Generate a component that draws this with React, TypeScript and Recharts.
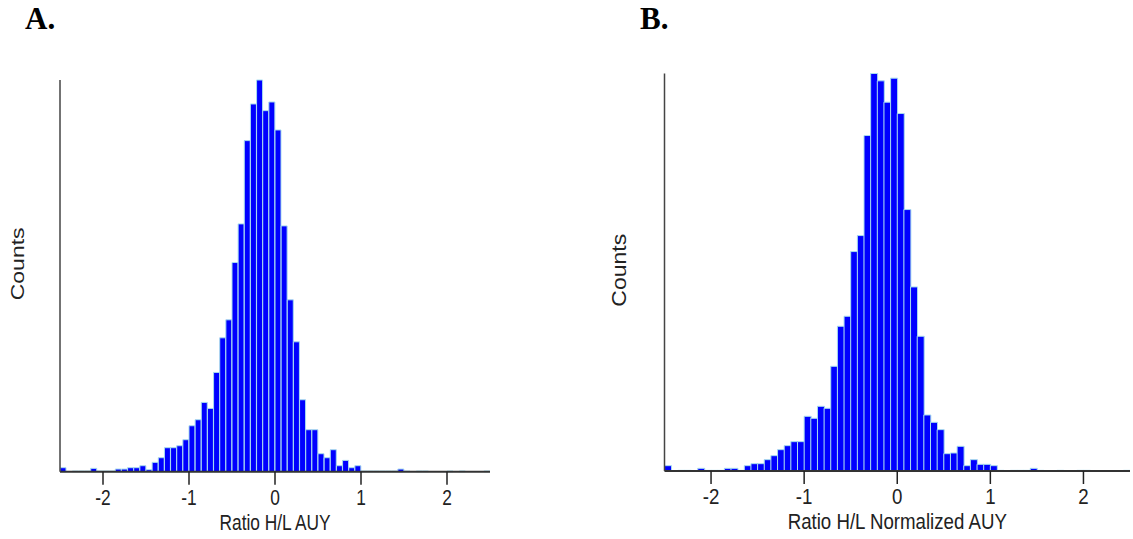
import React from "react";
import { BarChart, Bar, XAxis, YAxis } from "recharts";

// bin edges: 70 bins of width 1/14 spanning [-2.5, 2.5]
const binCount = 70;
const binWidth = 1 / 14;
const binStart = -2.5;
const xTicks = [-2, -1, 0, 1, 2];

const countsA = [
  6, 0, 1, 1, 1, 5, 1, 1, 1, 4,
  4, 6, 6, 9, 3, 14, 21, 36, 36, 39,
  48, 69, 78, 104, 95, 149, 201, 228, 314, 372,
  497, 552, 588, 542, 555, 513, 369, 258, 195, 108,
  63, 63, 27, 21, 33, 9, 17, 6, 9, 1,
  1, 1, 1, 1, 1, 4, 1, 0, 1, 1,
  0, 0, 0, 1, 0, 1, 0, 0, 0, 1,
];

const countsB = [
  8, 0, 1, 1, 0, 4, 1, 1, 1, 4,
  4, 1, 8, 11, 11, 17, 23, 32, 38, 44,
  44, 82, 79, 97, 94, 157, 217, 232, 329, 353,
  503, 596, 585, 553, 589, 536, 392, 276, 202, 84,
  73, 62, 26, 27, 37, 8, 17, 10, 10, 8,
  1, 0, 1, 1, 1, 4, 1, 0, 0, 1,
  0, 0, 1, 1, 0, 0, 0, 0, 0, 1,
];

const binCenters = Array.from({ length: binCount }, (_, i) =>
  +(binStart + (i + 0.5) * binWidth).toFixed(4)
);

const FONT = "'Liberation Sans', Arial, Helvetica, sans-serif";
const TEXT_COLOR = "#222";

type HistProps = {
  counts: number[];
  xLabel: string;
  width: number;
  height: number;
  margin: { top: number; right: number; bottom: number; left: number };
  sx: number;
  countsDx: number;
  countsDy: number;
};

function Histogram({ counts, xLabel, width, height, margin, sx, countsDx, countsDy }: HistProps) {
  const data = binCenters.map((x, i) => ({ x, count: counts[i] }));
  const maxCount = Math.max(...counts);

  const TickLabel = (props: any) => {
    const { x, y, payload } = props;
    return (
      <g transform={`translate(${x},${y})`}>
        <text
          x={0}
          y={18}
          textAnchor="middle"
          transform={`scale(${sx},1)`}
          fontSize={22.5}
          fontFamily={FONT}
          fill={TEXT_COLOR}
        >
          {payload.value}
        </text>
      </g>
    );
  };

  const XLabel = (props: any) => {
    const vb = props.viewBox || {};
    const cx = vb.x + vb.width / 2;
    return (
      <g transform={`translate(${cx},${vb.y + 58})`}>
        <text
          x={0}
          y={0}
          textAnchor="middle"
          transform={`scale(${sx},1)`}
          fontSize={22.5}
          fontFamily={FONT}
          fill={TEXT_COLOR}
        >
          {xLabel}
        </text>
      </g>
    );
  };

  const YLabel = (props: any) => {
    const vb = props.viewBox || {};
    const cx = vb.x + vb.width + countsDx;
    const cy = vb.y + vb.height / 2 + countsDy;
    return (
      <g transform={`translate(${cx},${cy}) scale(${sx + 0.05},1) rotate(-90)`}>
        <text
          x={0}
          y={0}
          textAnchor="middle"
          dominantBaseline="central"
          fontSize={23}
          fontFamily={FONT}
          fill={TEXT_COLOR}
        >
          Counts
        </text>
      </g>
    );
  };

  return (
    <BarChart
      width={width}
      height={height}
      data={data}
      margin={margin}
      barCategoryGap={0}
      barGap={0}
    >
      <XAxis
        dataKey="x"
        type="number"
        domain={[-2.5, 2.5]}
        ticks={xTicks}
        allowDataOverflow
        height={30}
        tickSize={13}
        tickLine={{ stroke: "#222", strokeWidth: 1.5 }}
        axisLine={{ stroke: "#333", strokeWidth: 2 }}
        tick={<TickLabel />}
        label={{ content: <XLabel /> }}
      />
      <YAxis
        domain={[0, maxCount]}
        width={1}
        tick={false}
        tickLine={false}
        axisLine={{ stroke: "#444", strokeWidth: 1.5 }}
        label={{ content: <YLabel /> }}
      />
      <Bar
        dataKey="count"
        fill="#0000ff"
        stroke="#a9dcee"
        strokeWidth={1}
        isAnimationActive={false}
      />
    </BarChart>
  );
}

export default function App() {
  return (
    <div
      style={{
        position: "absolute",
        left: 0,
        top: 0,
        width: 1133,
        height: 539,
        background: "#fff",
        overflow: "hidden",
      }}
    >
      <div style={{ position: "absolute", left: 0, top: 0 }}>
        <Histogram
          counts={countsA}
          xLabel="Ratio H/L AUY"
          width={560}
          height={539}
          margin={{ top: 80, right: 70, bottom: 37.3, left: 59 }}
          sx={0.77}
          countsDx={-43}
          countsDy={-12}
        />
      </div>
      <div style={{ position: "absolute", left: 600, top: 0 }}>
        <Histogram
          counts={countsB}
          xLabel="Ratio H/L Normalized AUY"
          width={533}
          height={539}
          margin={{ top: 73.5, right: 3, bottom: 38, left: 63.5 }}
          sx={0.83}
          countsDx={-45.5}
          countsDy={-2}
        />
      </div>
      <svg
        width={1133}
        height={539}
        style={{ position: "absolute", left: 0, top: 0, pointerEvents: "none" }}
      >
        <text x={25} y={29} fontSize={31} fontWeight="bold" fontFamily="'Liberation Serif', 'Times New Roman', serif" fill="#000">
          A.
        </text>
        <text x={640} y={29} fontSize={31} fontWeight="bold" fontFamily="'Liberation Serif', 'Times New Roman', serif" fill="#000">
          B.
        </text>
      </svg>
    </div>
  );
}
